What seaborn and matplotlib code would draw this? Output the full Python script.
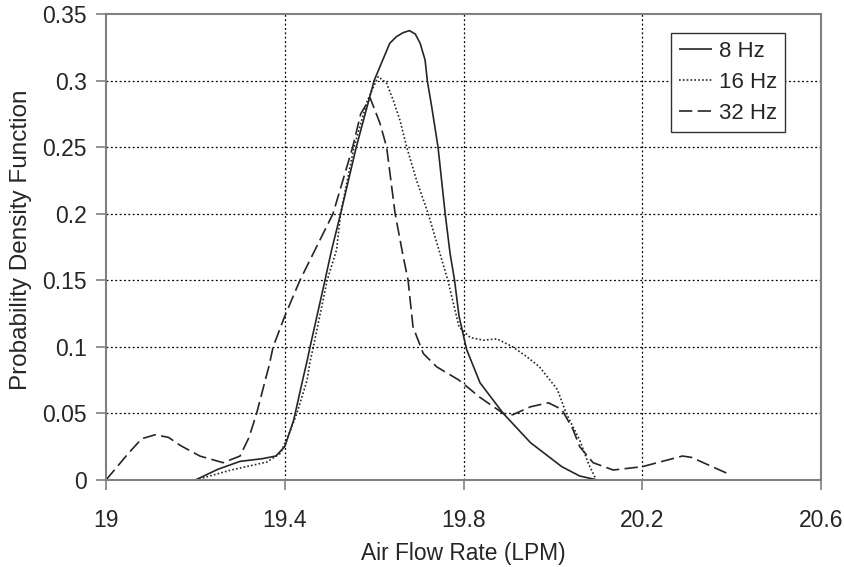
import matplotlib
matplotlib.use("Agg")
import matplotlib.pyplot as plt
import seaborn as sns
import pandas as pd

# ---- data ----
x_8hz = [19.20, 19.25, 19.30, 19.35, 19.38, 19.40, 19.42, 19.44, 19.449, 19.46,
         19.49, 19.505, 19.525, 19.56, 19.60, 19.635, 19.65, 19.665, 19.679,
         19.692, 19.703, 19.714, 19.719, 19.729, 19.743, 19.759, 19.77, 19.78,
         19.79, 19.807, 19.837, 19.889, 19.95, 20.02, 20.06, 20.10]
y_8hz = [0.0, 0.008, 0.014, 0.016, 0.018, 0.025, 0.045, 0.075, 0.088, 0.105,
         0.15, 0.173, 0.2, 0.25, 0.3, 0.328, 0.333, 0.336, 0.3375,
         0.335, 0.328, 0.3155, 0.3, 0.28, 0.25, 0.2, 0.17, 0.15,
         0.123, 0.098, 0.073, 0.05, 0.028, 0.01, 0.003, 0.0]

x_16hz = [19.20, 19.28, 19.36, 19.39, 19.41, 19.427, 19.45, 19.456, 19.464,
          19.495, 19.516, 19.525, 19.555, 19.585, 19.609, 19.628, 19.643,
          19.658, 19.673, 19.695, 19.721, 19.743, 19.765, 19.79, 19.815,
          19.845, 19.875, 19.91, 19.94, 19.97, 20.01, 20.03, 20.06, 20.08,
          20.097]
y_16hz = [0.0, 0.0075, 0.0135, 0.02, 0.035, 0.05, 0.075, 0.088, 0.1,
          0.15, 0.173, 0.2, 0.25, 0.285, 0.303, 0.298, 0.285,
          0.27, 0.25, 0.225, 0.2, 0.175, 0.15, 0.115, 0.107,
          0.105, 0.106, 0.1, 0.093, 0.085, 0.068, 0.05, 0.03, 0.012,
          0.0]

x_32hz = [19.00, 19.05, 19.08, 19.11, 19.14, 19.166, 19.21, 19.262, 19.30,
          19.32, 19.337, 19.365, 19.374, 19.40, 19.434, 19.468, 19.508,
          19.552, 19.57, 19.591, 19.613, 19.628, 19.647, 19.665, 19.676,
          19.687, 19.71, 19.74, 19.79, 19.837, 19.889, 19.91, 19.95, 19.99,
          20.02, 20.045, 20.06, 20.09, 20.135, 20.2, 20.29, 20.31, 20.39]
y_32hz = [0.0, 0.02, 0.031, 0.034, 0.032, 0.026, 0.018, 0.013, 0.018,
          0.032, 0.05, 0.086, 0.1, 0.123, 0.15, 0.173, 0.2,
          0.25, 0.275, 0.287, 0.268, 0.25, 0.2, 0.168, 0.15,
          0.115, 0.095, 0.085, 0.075, 0.062, 0.05, 0.049, 0.055, 0.058,
          0.053, 0.038, 0.025, 0.013, 0.0075, 0.01, 0.018, 0.017, 0.005]

series_labels = ["8 Hz", "16 Hz", "32 Hz"]
x_ticks = [19.0, 19.4, 19.8, 20.2, 20.6]
x_tick_labels = ["19", "19.4", "19.8", "20.2", "20.6"]
y_ticks = [0, 0.05, 0.1, 0.15, 0.2, 0.25, 0.3, 0.35]
y_tick_labels = ["0", "0.05", "0.1", "0.15", "0.2", "0.25", "0.3", "0.35"]

# ---- figure ----
sns.set_style("white")
plt.rcParams["font.family"] = ["Liberation Sans", "DejaVu Sans"]

fig = plt.figure(figsize=(8.44, 5.67), dpi=100)
ax = fig.add_axes([106 / 844, 1 - 480 / 567, 715 / 844, 466 / 567])

line_color = "#262626"
styles = [(0, ()), (0, (1.0, 1.3)), (0, (8.0, 3.2))]
data_x = [x_8hz, x_16hz, x_32hz]
data_y = [y_8hz, y_16hz, y_32hz]

for xs, ys, lab, ls in zip(data_x, data_y, series_labels, styles):
    df = pd.DataFrame({"x": xs, "y": ys})
    sns.lineplot(data=df, x="x", y="y", ax=ax, color=line_color,
                 linestyle=ls, linewidth=1.2, label=lab, estimator=None,
                 sort=False)

ax.set_xlim(19.0, 20.6)
ax.set_ylim(0, 0.35)
ax.set_xticks(x_ticks)
ax.set_xticklabels(x_tick_labels)
ax.set_yticks(y_ticks)
ax.set_yticklabels(y_tick_labels)

# grid
for gx in x_ticks[1:-1]:
    ax.axvline(gx, color="black", linestyle=(0, (1.5, 2.0)), linewidth=0.9, zorder=0)
for gy in y_ticks[1:-1]:
    ax.axhline(gy, color="black", linestyle=(0, (1.5, 2.0)), linewidth=0.9, zorder=0)

for sp in ax.spines.values():
    sp.set_visible(True)
    sp.set_color("#808080")
    sp.set_linewidth(1.5)

ax.tick_params(axis="x", direction="out", length=7, width=1.2, color="#808080",
               labelsize=16.5, pad=14, bottom=True)
ax.tick_params(axis="y", direction="out", length=7, width=1.2, color="#808080",
               labelsize=16.5, pad=7, left=True)

ax.set_xlabel("Air Flow Rate (LPM)", fontsize=16.4, labelpad=7)
ax.set_ylabel("Probability Density Function", fontsize=17.5)
ax.yaxis.set_label_coords(-0.1035, 0.515)

leg = ax.legend(loc="upper right", bbox_to_anchor=(0.9497, 0.959),
                borderaxespad=0, fontsize=16, handlelength=1.5,
                handletextpad=0.3, labelspacing=0.45, borderpad=0.35,
                fancybox=False, framealpha=1, edgecolor="#333333")
leg.get_frame().set_linewidth(1.0)

fig.savefig("out.png", dpi=100)
